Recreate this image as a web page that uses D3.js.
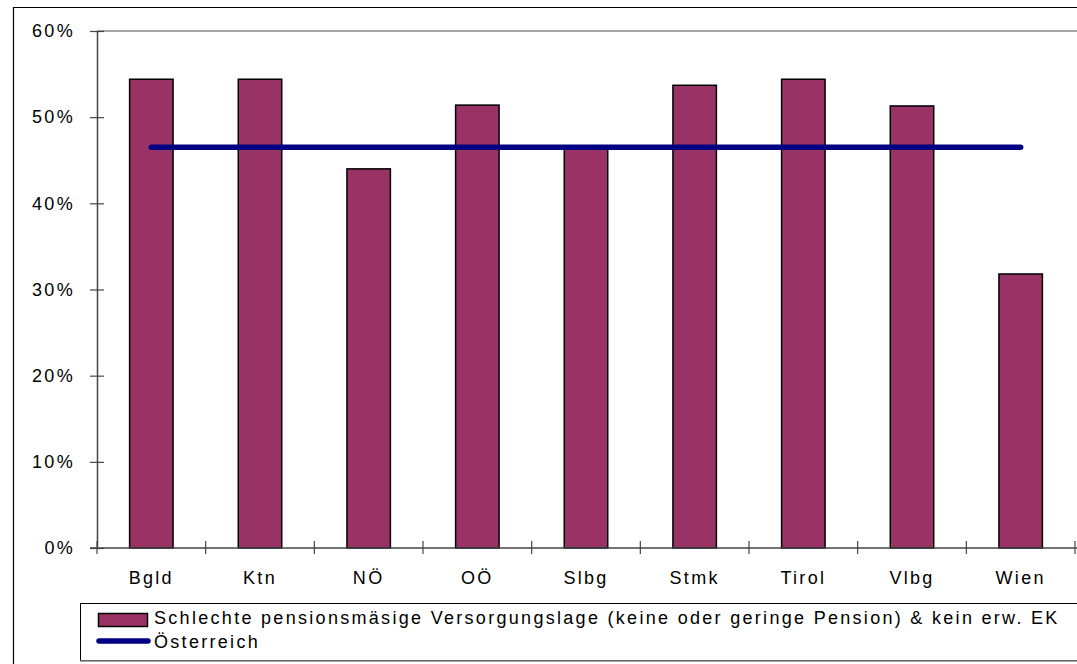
<!DOCTYPE html>
<html><head><meta charset="utf-8">
<script src="https://cdn.jsdelivr.net/npm/d3@7"></script>
<style>
body{margin:0;background:#fff;}
svg{display:block;font-family:"Liberation Sans",Arial,sans-serif;}
</style></head>
<body><svg id="c" width="1077" height="664"></svg>
<script>
const categories = ["Bgld","Ktn","NÖ","OÖ","Slbg","Stmk","Tirol","Vlbg","Wien"];
const barValues = [54.4, 54.4, 44.0, 51.4, 46.4, 53.7, 54.4, 51.3, 31.8];
const austriaValues = [46.5, 46.5, 46.5, 46.5, 46.5, 46.5, 46.5, 46.5, 46.5];
const yTicks = [0,10,20,30,40,50,60];
const seriesNames = ["Schlechte pensionsmäsige Versorgungslage (keine oder geringe Pension) & kein erw. EK","Österreich"];

const svg = d3.select("#c");
const W = 1077, H = 664;
const mLeft = 97, mRight = 1075, mTop = 31, mBottom = 548;

// outer frame
svg.append("path").attr("d", `M13.5,${H+2} V7.5 H${W+2}`).attr("fill","none").attr("stroke","#000").attr("stroke-width",1.2);

const x = d3.scaleBand().domain(categories).range([mLeft,mRight]).paddingInner(0.6).paddingOuter(0.3);
const xb = d3.scaleBand().domain(categories).range([mLeft,mRight]);
const y = d3.scaleLinear().domain([0,60]).range([mBottom,mTop]);

// plot top border
svg.append("line").attr("x1",mLeft).attr("x2",W+2).attr("y1",mTop).attr("y2",mTop).attr("stroke","#888").attr("stroke-width",1.6);

// bars
svg.append("g").selectAll("rect").data(barValues).join("rect")
  .attr("x",(d,i)=>x(categories[i]))
  .attr("width",x.bandwidth())
  .attr("y",d=>y(d))
  .attr("height",d=>y(0)-y(d))
  .attr("fill","#993366").attr("stroke","#000").attr("stroke-width",1.5);

// y axis
const ya = svg.append("g").attr("transform",`translate(${mLeft},0)`)
  .call(d3.axisLeft(y).tickValues(yTicks).tickFormat(d=>d+"%").tickSize(0).tickPadding(22));
ya.select(".domain").attr("stroke","#444").attr("stroke-width",1.5);
ya.selectAll(".tick line").attr("x1",-7).attr("x2",7).attr("stroke","#444").attr("stroke-width",1.2);
ya.selectAll("text").attr("font-size",18).attr("fill","#000").attr("letter-spacing","2.3px").attr("font-family","'Liberation Sans',Arial,sans-serif");

// x axis
const xa = svg.append("g").attr("transform",`translate(0,${mBottom})`);
xa.append("line").attr("x1",mLeft-7).attr("x2",W+2).attr("y1",0).attr("y2",0).attr("stroke","#444").attr("stroke-width",1.5);
const bounds = categories.map(c=>xb(c)).concat([mRight]);
xa.selectAll("line.t").data(bounds).join("line").attr("class","t")
  .attr("x1",d=>d).attr("x2",d=>d).attr("y1",-7).attr("y2",6).attr("stroke","#444").attr("stroke-width",1.2);
xa.selectAll("text").data(categories).join("text")
  .attr("x",d=>xb(d)+xb.bandwidth()/2).attr("y",36)
  .attr("text-anchor","middle").attr("font-size",18).attr("letter-spacing","2.3px").text(d=>d);

// Austria line
const line = d3.line().x((d,i)=>xb(categories[i])+xb.bandwidth()/2).y(d=>y(d));
svg.append("path").datum(austriaValues).attr("d",line).attr("fill","none")
  .attr("stroke","#000080").attr("stroke-width",5.5).attr("stroke-linecap","round");

// legend
const lg = svg.append("g");
lg.append("rect").attr("x",80.5).attr("y",603.5).attr("width",W).attr("height",57).attr("fill","#fff").attr("stroke","#000").attr("stroke-width",1);
lg.append("line").attr("x1",80).attr("x2",W+2).attr("y1",661).attr("y2",661).attr("stroke","#888").attr("stroke-width",1.6);
lg.append("rect").attr("x",98.5).attr("y",613.5).attr("width",49).attr("height",13).attr("fill","#993366").attr("stroke","#000").attr("stroke-width",1.5);
lg.append("line").attr("x1",99).attr("x2",148).attr("y1",641).attr("y2",641).attr("stroke","#000080").attr("stroke-width",5.5).attr("stroke-linecap","round");
lg.append("text").attr("x",154).attr("y",624).attr("font-size",18).attr("letter-spacing","2.3px").text(seriesNames[0]);
lg.append("text").attr("x",154).attr("y",648).attr("font-size",18).attr("letter-spacing","2.3px").text(seriesNames[1]);
</script></body></html>
